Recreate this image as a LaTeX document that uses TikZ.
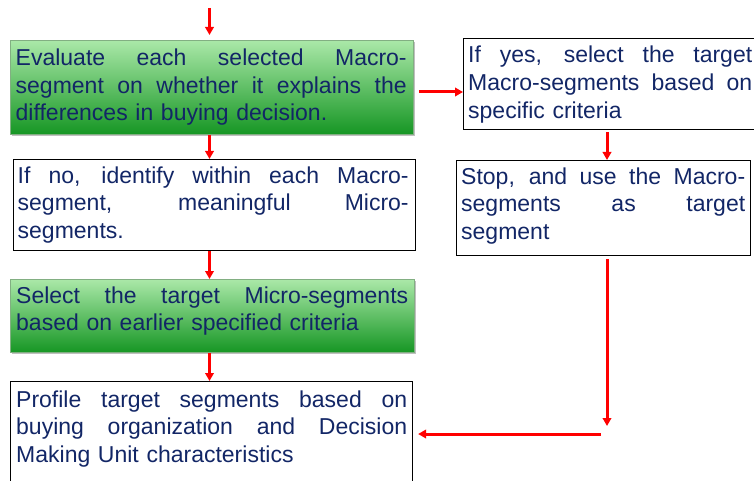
\documentclass[tikz,border=0pt]{standalone}
\usepackage{fontspec}
\setmainfont{Liberation Sans}
\usetikzlibrary{arrows.meta,shadows,calc}
\definecolor{inkblue}{RGB}{18,38,102}
\definecolor{greenlight}{RGB}{170,232,168}
\definecolor{greendark}{RGB}{22,150,36}
\definecolor{greenedge}{RGB}{130,175,130}
% one fully justified line of a paragraph, as wide as the node text
\newcommand{\jl}[1]{\leavevmode\hbox to \hsize{\spaceskip=0.28em plus 10em minus 0.05em\relax #1}\\}
\begin{document}
\begin{tikzpicture}[x=1pt,y=-1pt,
  box/.style={draw=black, line width=1.1pt, inner sep=0pt, anchor=north west},
  greenbox/.style={draw=greenedge, line width=0.8pt, top color=greenlight,
    bottom color=greendark, inner sep=0pt, anchor=north west,
    drop shadow={shadow xshift=1.5pt, shadow yshift=-1.5pt, fill=black, opacity=0.25}},
  txt/.style={anchor=base west, inner sep=0pt, text width=#1, align=left,
    text=inkblue, font=\fontsize{23}{27.6}\selectfont},
  arr/.style={draw=red, line width=3pt, -{Triangle[length=8pt,width=8.5pt]}}
]
\useasboundingbox (0,0) rectangle (754,481);
\begin{scope}
\clip (0,0) rectangle (754,481);

% boxes
\node[greenbox, minimum width=403pt, minimum height=94pt] (eval) at (10,40) {};
\node[box, minimum width=402pt, minimum height=91pt] (ifno) at (13,159) {};
\node[greenbox, minimum width=404pt, minimum height=73pt] (selmicro) at (10,279) {};
\node[box, minimum width=402pt, minimum height=110pt] (profile) at (10,381) {};
\node[box, minimum width=296pt, minimum height=91pt] (ifyes) at (463,38) {};
\node[box, minimum width=294pt, minimum height=95pt] (stop) at (456,160) {};

% texts
\node[txt=391pt] (evalt) at (15.5,65.5)
  {\jl{Evaluate each selected Macro-}\jl{segment on whether it explains the}differences in buying decision.};
\node[txt=391pt] (ifnot) at (17.5,183)
  {\jl{If no, identify within each Macro-}\jl{segment, meaningful Micro-}segments.};
\node[txt=392pt] (selmicrot) at (16,303)
  {\jl{Select the target Micro-segments}based on earlier specified criteria};
\node[txt=391pt] (profilet) at (16,407)
  {\jl{Profile target segments based on}\jl{buying organization and Decision}Making Unit characteristics};
\node[txt=284pt] (ifyest) at (468,63)
  {\jl{If yes, select the target}\jl{Macro-segments based on}specific criteria};
\node[txt=284pt] (stopt) at (461,184)
  {\jl{Stop, and use the Macro-}\jl{segments as target}segment};

% connectors
\coordinate (top) at (209.5,8);
\coordinate (ry) at (0,92);
\coordinate (rc) at (607,0);
\coordinate (dn) at (607,426);
\coordinate (lstart) at (601,434);

\draw[arr] (top) -- ($(top |- eval.north)+(0,-5)$);
\draw[arr] (eval.south -| top) -- (ifno.north -| top);
\draw[arr] (ifno.south -| top) -- (selmicro.north -| top);
\draw[arr] (selmicro.south -| top) -- (profile.north -| top);
\draw[arr] ($(eval.east |- ry)+(5,0)$) -- (ifyes.west |- ry);
\draw[arr] ($(ifyes.south -| rc)+(0,2)$) -- (stop.north -| rc);
\draw[arr] ($(stop.south -| rc)+(0,3)$) -- (dn);
\draw[arr] (lstart) -- ($(profile.east |- lstart)+(5,0)$);
\end{scope}
\end{tikzpicture}
\end{document}
